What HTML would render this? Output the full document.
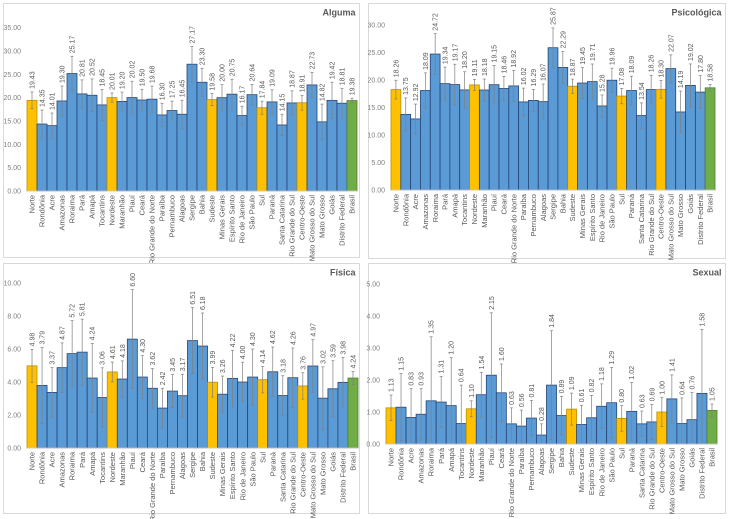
<!DOCTYPE html>
<html><head><meta charset="utf-8"><style>
body{margin:0;background:#fff;width:729px;height:519px;overflow:hidden;font-family:"Liberation Sans",sans-serif}
svg{position:absolute;left:0;top:0}
</style></head><body>
<svg id="c" width="729" height="519"></svg>
<script>
const categories=["Norte","Rondônia","Acre","Amazonas","Roraima","Pará","Amapá","Tocantins","Nordeste","Maranhão","Piauí","Ceará","Rio Grande do Norte","Paraíba","Pernambuco","Alagoas","Sergipe","Bahia","Sudeste","Minas Gerais","Espírito Santo","Rio de Janeiro","São Paulo","Sul","Paraná","Santa Catarina","Rio Grande do Sul","Centro-Oeste","Mato Grosso do Sul","Mato Grosso","Goiás","Distrito Federal","Brasil"];
const regions=["Norte","Nordeste","Sudeste","Sul","Centro-Oeste"];
const algumaValues=[19.43,14.35,14.01,19.30,25.17,20.81,20.52,18.45,20.01,19.20,20.02,19.50,19.68,16.30,17.25,16.45,27.17,23.30,19.58,20.00,20.75,16.17,20.64,17.84,19.09,14.15,18.87,18.91,22.73,14.82,19.42,18.81,19.38];
const algumaErr=[1.8,3,2.7,3.2,3.7,3,3.5,3.3,1,2,3.5,2.3,2.8,2.5,2,3,3.8,3,1.3,2.8,3.2,2,2.2,1.4,2.6,2.3,2.6,1.6,2.7,3.8,3.9,3.2,0.5];
const psicValues=[18.26,13.75,12.92,18.09,24.72,19.34,19.17,18.20,19.11,18.18,19.15,18.46,18.92,16.02,16.29,16.07,25.87,22.29,18.87,19.45,19.71,15.28,19.96,17.08,18.09,13.54,18.26,18.30,22.07,14.19,19.02,17.80,18.58];
const psicErr=[1.7,3,2.7,3.2,3.7,3,3.7,3.3,1,2,3.5,2.2,2.8,2.5,2,3.2,3.6,2.9,1.3,2.8,3.2,2,2.2,1.4,2.6,2.3,2.6,1.6,2.5,3.8,3.9,3,0.6];
const fisicaValues=[4.98,3.79,3.37,4.87,5.72,5.81,4.24,3.06,4.61,4.18,6.60,4.30,3.62,2.42,3.45,3.17,6.51,6.18,3.99,3.26,4.22,4.00,4.30,4.14,4.62,3.18,4.26,3.76,4.97,3.02,3.59,3.98,4.24];
const fisicaErr=[1,2.3,1.5,1.5,2,2,2.1,1.8,0.6,1.1,3,1.3,1.2,1.2,1,1.3,2,2,0.9,1.1,1.7,1.2,1.7,0.8,1.5,1.2,1.8,0.8,1.6,1.9,1.7,1.5,0.4];
const sexualValues=[1.13,1.15,0.83,0.93,1.35,1.31,1.20,0.64,1.10,1.54,2.15,1.60,0.63,0.56,0.81,0.28,1.84,0.89,1.09,0.61,0.82,1.18,1.29,0.80,1.02,0.63,0.69,1.00,1.41,0.64,0.76,1.58,1.05];
const sexualErr=[0.4,1.05,0.9,0.8,2,0.8,1.5,1.2,0.25,0.7,1.95,0.9,0.5,0.5,0.55,0.35,1.7,0.6,0.5,0.6,0.7,0.7,1.1,0.4,0.9,0.4,0.55,0.45,0.75,0.8,0.85,2,0.2];
const yTicksA=[0,5,10,15,20,25,30,35];
const yTicksP=[0,5,10,15,20,25,30];
const yTicksF=[0,2,4,6,8,10];
const yTicksS=[0,1,2,3,4,5];

const NS="http://www.w3.org/2000/svg";
const svg=document.getElementById('c');
function mk(t,a,p){const e=document.createElementNS(NS,t);for(const k in a)e.setAttribute(k,a[k]);(p||svg).appendChild(e);return e;}

function panel(cfg){
  const g=mk('g',{});
  
  
  const box=mk('rect',{x:cfg.bx,y:cfg.by,width:cfg.bw,height:cfg.bh,fill:'#fff',stroke:'#d9d9d9','stroke-width':1},g);
  
  
  const t=mk('text',{x:cfg.bx+cfg.bw-4,y:cfg.by+12,'text-anchor':'end','font-size':9,'font-weight':'bold',fill:'#595959'},g);
  t.textContent=cfg.title;
  
  
  const y=v=>cfg.y0-v*cfg.ppu;
  const n=categories.length, bw=(cfg.x1-cfg.x0)/n;
  const x=i=>cfg.x0+i*bw;
  cfg.ticks.forEach(v=>{
    const tl=mk('text',{x:cfg.x0-6,y:y(v)+2.5,'text-anchor':'end','font-size':7,fill:'#7f7f7f'},g);
    tl.textContent=v.toFixed(2);
    
    
  });
  cfg.values.forEach((v,i)=>{
    const c=categories[i];
    let fill='#5b9bd5',st='#264478';
    if(regions.includes(c)){fill='#ffc000';st='#bf9000';}
    if(c==='Brasil'){fill='#70ad47';st='#507e32';}
    const r=mk('rect',{x:x(i),y:y(v),width:bw,height:cfg.y0-y(v),fill:fill,stroke:st,'stroke-width':0.8},g);
    
    
  });
  cfg.values.forEach((v,i)=>{
    const e=cfg.err[i], cx=x(i)+bw/2;
    const lo=Math.max(0,v-e), hi=v+e;
    const eb=mk('g',{stroke:'#7f7f7f','stroke-width':0.7},g);
    
    
    mk('line',{x1:cx,x2:cx,y1:y(lo),y2:y(hi)},eb);
    mk('line',{x1:cx-1.5,x2:cx+1.5,y1:y(hi),y2:y(hi)},eb);
    mk('line',{x1:cx-1.5,x2:cx+1.5,y1:y(lo),y2:y(lo)},eb);
    const vy=y(hi)-3, vx=cx+2.5;
    const vl=mk('text',{x:vx,y:vy,transform:`rotate(-90 ${vx} ${vy})`,'font-size':7,fill:'#595959'},g);
    vl.textContent=v.toFixed(2);
    
    
    const ly=cfg.y0+4, lx=cx+2.6;
    const cl=mk('text',{x:lx,y:ly,transform:`rotate(-90 ${lx} ${ly})`,'text-anchor':'end','font-size':7.5,fill:'#595959'},g);
    cl.textContent=categories[i];
    
    
  });
  const ax=mk('line',{x1:cfg.x0,x2:cfg.x1,y1:cfg.y0,y2:cfg.y0,stroke:'#d9d9d9','stroke-width':0.8},g);
  
  
}
panel({name:'alguma',title:'Alguma',values:algumaValues,err:algumaErr,ticks:yTicksA,bx:3.5,by:3.5,bw:356,bh:254,x0:27,x1:357,y0:191,ppu:70/15});
panel({name:'psicologica',title:'Psicológica',values:psicValues,err:psicErr,ticks:yTicksP,bx:368.5,by:3.5,bw:357,bh:255,x0:391,x1:715,y0:190,ppu:5.5});
panel({name:'fisica',title:'Física',values:fisicaValues,err:fisicaErr,ticks:yTicksF,bx:3.5,by:263.5,bw:356,bh:250,x0:27,x1:358,y0:448,ppu:16.5});
panel({name:'sexual',title:'Sexual',values:sexualValues,err:sexualErr,ticks:yTicksS,bx:368.5,by:263.5,bw:357,bh:250,x0:386,x1:717,y0:444,ppu:32});
</script>
</body></html>
